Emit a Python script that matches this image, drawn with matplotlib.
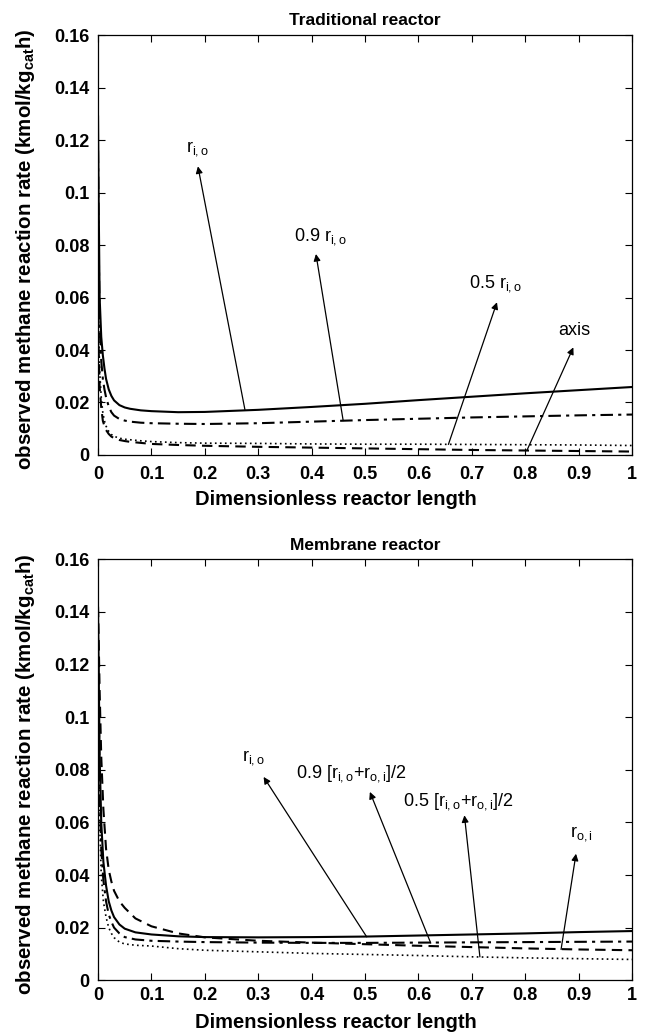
import numpy as np
import matplotlib
matplotlib.use("Agg")
import matplotlib.pyplot as plt

plt.rcParams['font.family'] = ['Liberation Sans', 'DejaVu Sans']
plt.rcParams['mathtext.fontset'] = 'custom'
plt.rcParams['mathtext.rm'] = 'Liberation Sans'
plt.rcParams['mathtext.it'] = 'Liberation Sans:italic'
plt.rcParams['mathtext.bf'] = 'Liberation Sans:bold'

# --- traditional reactor (top) ---
x_trad = [0, 0.001, 0.003, 0.006, 0.009, 0.012, 0.015, 0.02, 0.025, 0.03, 0.04, 0.05, 0.06, 0.08,
          0.1, 0.15, 0.2, 0.3, 0.4, 0.5, 0.6, 0.7, 0.8, 0.9, 1.0]
trad_rio = [0.129, 0.100, 0.060, 0.045, 0.038, 0.033, 0.029, 0.025, 0.0225, 0.0208, 0.0190, 0.0181,
            0.0176, 0.0170, 0.0167, 0.0163, 0.0164, 0.0172, 0.0183, 0.0195, 0.0209, 0.0222, 0.0235,
            0.0247, 0.0259]
trad_09 = [0.116, 0.085, 0.050, 0.036, 0.029, 0.025, 0.022, 0.0185, 0.0163, 0.0150, 0.0137, 0.0131,
           0.0127, 0.0123, 0.0121, 0.0119, 0.0118, 0.0121, 0.0127, 0.0133, 0.0138, 0.0143, 0.0147,
           0.0151, 0.0154]
trad_05 = [0.070, 0.050, 0.032, 0.022, 0.016, 0.013, 0.011, 0.0090, 0.0078, 0.0071, 0.0064, 0.0060,
           0.0058, 0.0054, 0.0051, 0.0047, 0.0045, 0.0044, 0.0042, 0.0041, 0.0041, 0.0040, 0.0039,
           0.0038, 0.0036]
trad_axis = [0.060, 0.042, 0.026, 0.018, 0.013, 0.011, 0.0095, 0.0080, 0.0070, 0.0064, 0.0057, 0.0053,
             0.0050, 0.0046, 0.0042, 0.0038, 0.0035, 0.0031, 0.0028, 0.0025, 0.0022, 0.0019, 0.0017,
             0.0015, 0.0013]

# --- membrane reactor (bottom) ---
x_memb = [0, 0.003, 0.006, 0.01, 0.015, 0.02, 0.025, 0.03, 0.04, 0.05, 0.07, 0.1, 0.15,
          0.2, 0.3, 0.4, 0.5, 0.6, 0.7, 0.8, 0.9, 1.0]
memb_rio = [0.140, 0.085, 0.060, 0.045, 0.036, 0.030, 0.0265, 0.024, 0.0212, 0.0196, 0.0182, 0.0174,
            0.0167, 0.0164, 0.0163, 0.0164, 0.0166, 0.0170, 0.0174, 0.0178, 0.0183, 0.0187]
memb_09 = [0.130, 0.072, 0.050, 0.038, 0.030, 0.025, 0.0222, 0.0200, 0.0178, 0.0164, 0.0155, 0.0150,
           0.0147, 0.0145, 0.0143, 0.0142, 0.0142, 0.0143, 0.0144, 0.0145, 0.0146, 0.0147]
memb_05 = [0.120, 0.060, 0.040, 0.030, 0.024, 0.020, 0.0178, 0.0162, 0.0145, 0.0138, 0.0133, 0.0130,
           0.0120, 0.0114, 0.0108, 0.0102, 0.0098, 0.0094, 0.0089, 0.0085, 0.0082, 0.0079]
memb_roi = [0.142, 0.110, 0.085, 0.065, 0.050, 0.042, 0.0375, 0.034, 0.0300, 0.0275, 0.0235, 0.0205,
            0.0178, 0.0163, 0.0150, 0.0143, 0.0137, 0.0131, 0.0126, 0.0121, 0.0117, 0.0114]

x_ticks = [0, 0.1, 0.2, 0.3, 0.4, 0.5, 0.6, 0.7, 0.8, 0.9, 1]
y_ticks = [0, 0.02, 0.04, 0.06, 0.08, 0.1, 0.12, 0.14, 0.16]
x_ticklabels = ['0', '0.1', '0.2', '0.3', '0.4', '0.5', '0.6', '0.7', '0.8', '0.9', '1']
y_ticklabels = ['0', '0.02', '0.04', '0.06', '0.08', '0.1', '0.12', '0.14', '0.16']

# annotations: text, text position, arrow head, arrow tail
rio = r'$\mathregular{r_{i,o}}$'
roi = r'$\mathregular{r_{o,i}}$'
trad_notes = [
    (rio, (0.187, 0.1166), (0.187, 0.110), (0.275, 0.0173)),
    ('0.9 ' + rio, (0.416, 0.0834), (0.408, 0.0766), (0.459, 0.0131)),
    ('0.5 ' + rio, (0.745, 0.0655), (0.747, 0.0582), (0.656, 0.0040)),
    ('axis', (0.891, 0.0476), (0.890, 0.0410), (0.803, 0.0017)),
]
memb_notes = [
    (rio, (0.292, 0.0847), (0.310, 0.0773), (0.503, 0.0165)),
    ('0.9 [' + rio + '+' + roi + ']/2', (0.474, 0.0787), (0.509, 0.0716), (0.623, 0.0141)),
    ('0.5 [' + rio + '+' + roi + ']/2', (0.674, 0.0680), (0.686, 0.0627), (0.715, 0.0089)),
    (roi, (0.906, 0.0559), (0.895, 0.0481), (0.867, 0.0117)),
]

ylab = r'observed methane reaction rate (kmol/kg$\mathbf{_{cat}}$h)'

fig = plt.figure(figsize=(6.45, 10.34), dpi=100)
ax1 = fig.add_axes([0.152, 0.560, 0.828, 0.406])
ax2 = fig.add_axes([0.152, 0.052, 0.828, 0.407])

lw = 1.5
ax1.plot(x_trad, trad_rio, color='black', lw=lw, ls='-')
ax1.plot(x_trad, trad_09, color='black', lw=lw, ls=(0, (6, 2.5, 1.5, 2.5)))
ax1.plot(x_trad, trad_05, color='black', lw=1.2, ls=(0, (1, 2)))
ax1.plot(x_trad, trad_axis, color='black', lw=lw, ls=(0, (5, 3)))

ax2.plot(x_memb, memb_rio, color='black', lw=lw, ls='-')
ax2.plot(x_memb, memb_09, color='black', lw=lw, ls=(0, (6, 2.5, 1.5, 2.5)))
ax2.plot(x_memb, memb_05, color='black', lw=1.2, ls=(0, (1, 2)))
ax2.plot(x_memb, memb_roi, color='black', lw=lw, ls=(0, (5, 3)))

for ax, notes, title, xpad, xlab_y in [(ax1, trad_notes, 'Traditional reactor', 8, -0.084),
                                       (ax2, memb_notes, 'Membrane reactor', 5, -0.078)]:
    for txt, tpos, head, tail in notes:
        ax.text(tpos[0], tpos[1], txt, fontsize=13, ha='center', va='center')
        ax.annotate('', xy=head, xytext=tail,
                    arrowprops=dict(arrowstyle='-|>', color='black', lw=0.9,
                                    mutation_scale=10, shrinkA=0, shrinkB=0))
    ax.set_xlim(0, 1)
    ax.set_ylim(0, 0.16)
    ax.set_xticks(x_ticks)
    ax.set_xticklabels(x_ticklabels, fontsize=13, fontweight='bold')
    ax.set_yticks(y_ticks)
    ax.set_yticklabels(y_ticklabels, fontsize=13, fontweight='bold')
    ax.tick_params(axis='both', direction='in', top=True, right=True, length=5, width=0.8)
    ax.tick_params(axis='x', pad=xpad)
    ax.tick_params(axis='y', pad=6)
    for s in ax.spines.values():
        s.set_linewidth(0.9)
    ax.set_xlabel('Dimensionless reactor length', fontsize=14.5, fontweight='bold')
    ax.xaxis.set_label_coords(0.446, xlab_y)
    ax.set_ylabel(ylab, fontsize=14.8, fontweight='bold')
    ax.yaxis.set_label_coords(-0.115, 0.49)
    ax.set_title(title, fontsize=12.5, fontweight='bold', pad=7)

fig.savefig('out.png', dpi=100)
